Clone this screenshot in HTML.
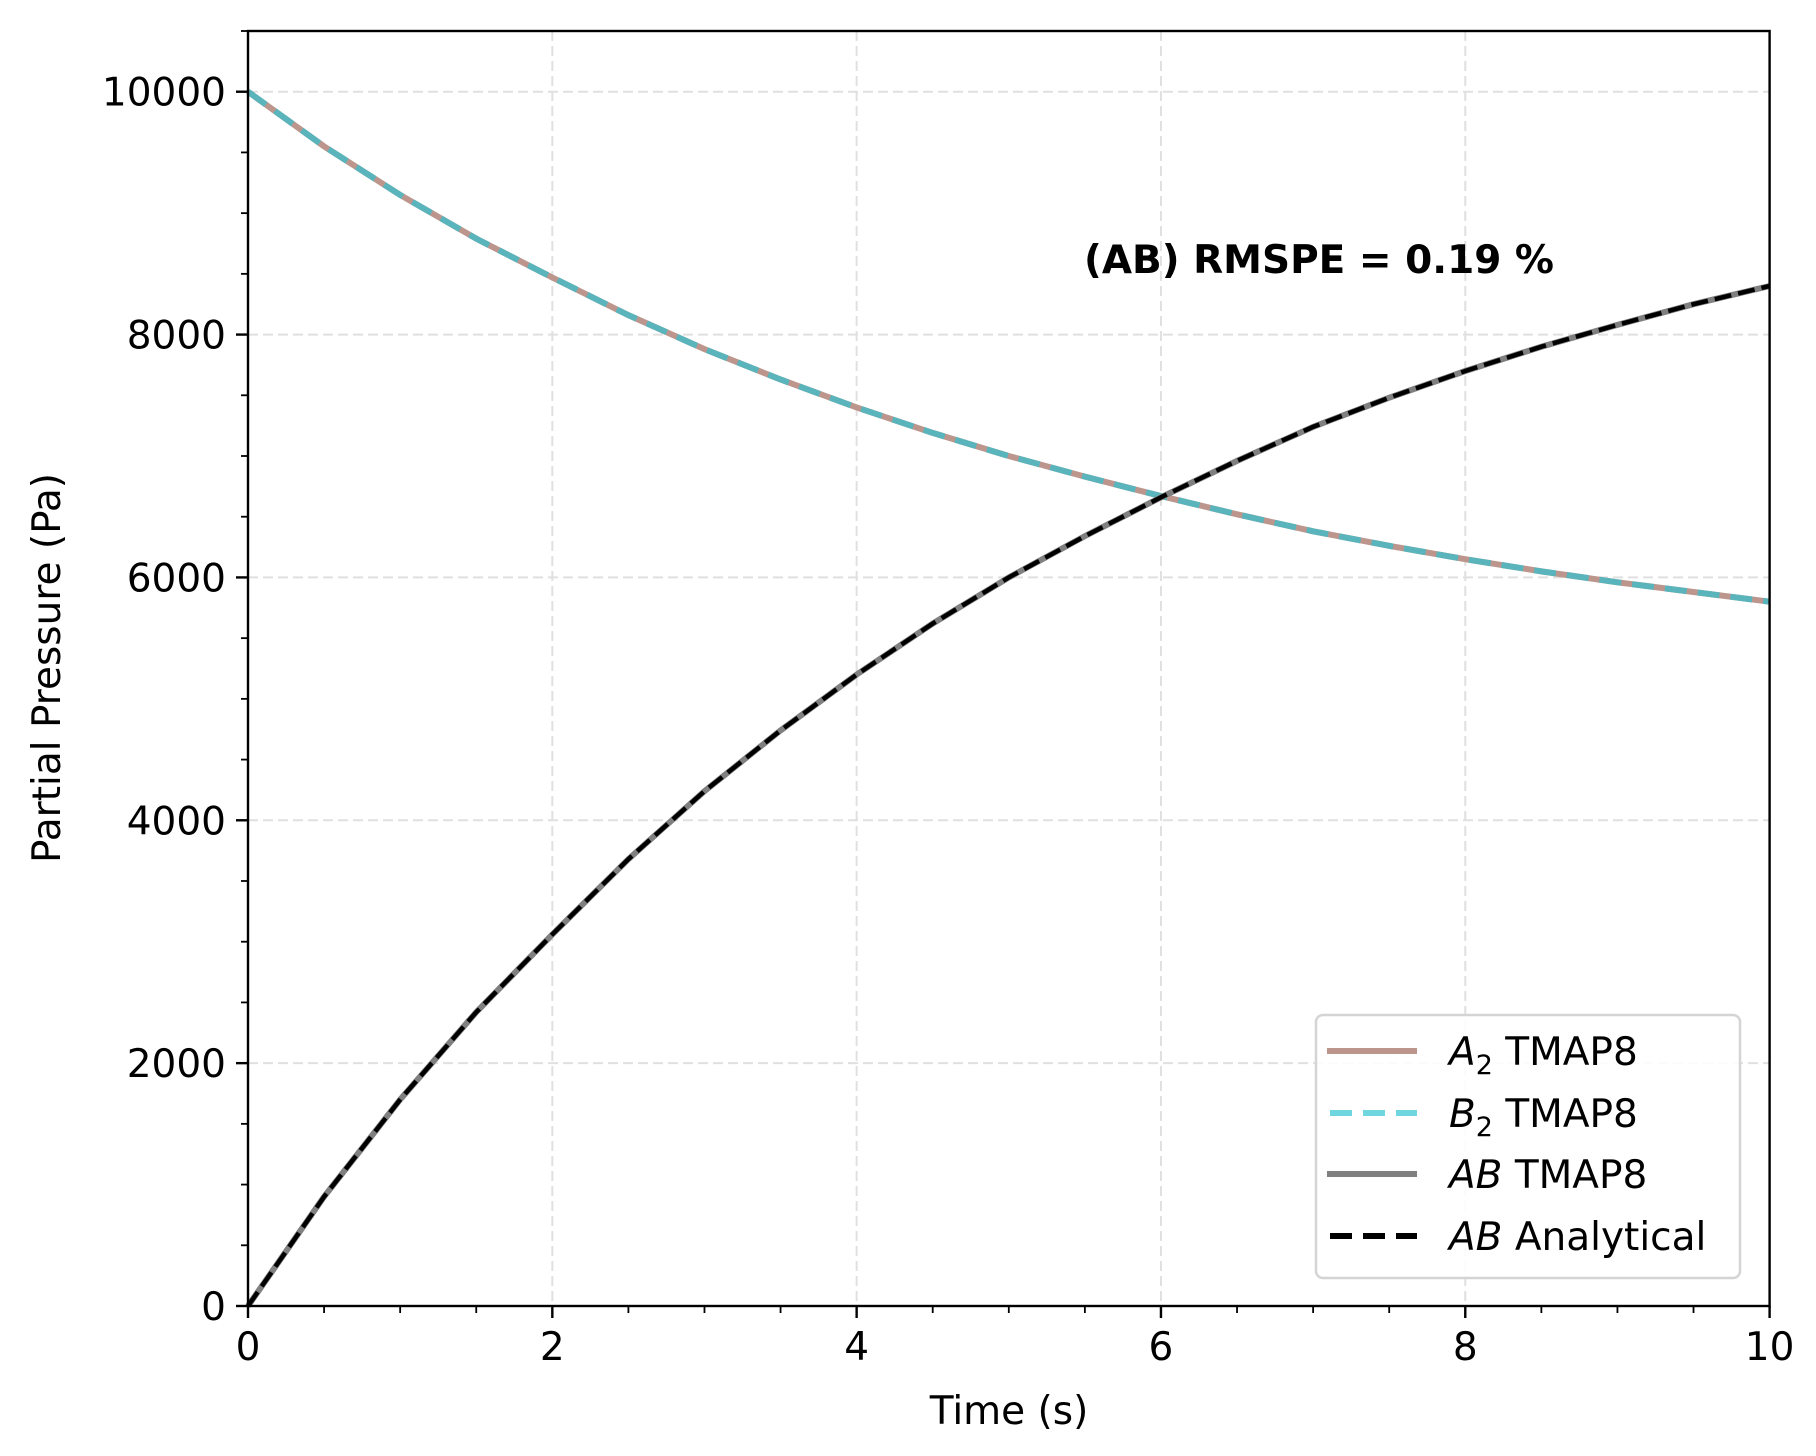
<!DOCTYPE html>
<html><head><meta charset="utf-8"><style>
html,body{margin:0;padding:0;background:#fff}
svg{display:block;font-family:"DejaVu Sans","Liberation Sans",sans-serif}
</style></head><body>
<svg id="chart" width="1816" height="1456" viewBox="0 0 1816 1456" xmlns="http://www.w3.org/2000/svg">
<rect width="1816" height="1456" fill="#fff"/>
<g id="grid"></g>
<g id="series"></g>
<rect x="248" y="31" width="1521.6" height="1275" fill="none" stroke="#000" stroke-width="2.4"/>
<g id="ticks"></g>
<text x="1084" y="273" font-size="39" font-weight="bold">(AB) RMSPE = 0.19 %</text>
<text x="1009" y="1424" font-size="39" text-anchor="middle">Time (s)</text>
<text transform="translate(60,668) rotate(-90)" font-size="39" text-anchor="middle">Partial Pressure (Pa)</text>
<g>
<rect x="1316" y="1015" width="424" height="263" rx="7" fill="#fff" fill-opacity="0.85" stroke="#d4d4d4" stroke-width="2.5"/>
<line x1="1327" y1="1051" x2="1417" y2="1051" stroke="#bc968d" stroke-width="6"/>
<text x="1449" y="1065" font-size="39"><tspan font-style="italic">A</tspan><tspan font-size="27" dy="9">2</tspan><tspan dy="-9"> TMAP8</tspan></text>
<line x1="1330" y1="1113" x2="1417" y2="1113" stroke="#6fd6e0" stroke-width="6" stroke-dasharray="22,11"/>
<text x="1449" y="1127" font-size="39"><tspan font-style="italic">B</tspan><tspan font-size="27" dy="9">2</tspan><tspan dy="-9"> TMAP8</tspan></text>
<line x1="1327" y1="1174" x2="1417" y2="1174" stroke="#808080" stroke-width="6"/>
<text x="1449" y="1188" font-size="39"><tspan font-style="italic">AB</tspan> TMAP8</text>
<line x1="1330" y1="1236" x2="1417" y2="1236" stroke="#000" stroke-width="6" stroke-dasharray="22,11"/>
<text x="1449" y="1250" font-size="39"><tspan font-style="italic">AB</tspan> Analytical</text>
</g>
</svg>
<script>
const times = [0,0.5,1,1.5,2,2.5,3,3.5,4,4.5,5,5.5,6,6.5,7,7.5,8,8.5,9,9.5,10];
const a2Values = [10000,9550,9150,8790,8470,8160,7880,7630,7400,7190,7000,6830,6670,6520,6380,6260,6150,6050,5960,5880,5800];
const b2Values = [10000,9550,9150,8790,8470,8160,7880,7630,7400,7190,7000,6830,6670,6520,6380,6260,6150,6050,5960,5880,5800];
const abValues = [0,900,1700,2420,3060,3680,4240,4740,5200,5620,6000,6340,6660,6960,7240,7480,7700,7900,8080,8250,8400];
const abAnalytical = [0,900,1700,2420,3060,3680,4240,4740,5200,5620,6000,6340,6660,6960,7240,7480,7700,7900,8080,8250,8400];
const xTicks = [0,2,4,6,8,10];
const yTicks = [0,2000,4000,6000,8000,10000];

const NS = "http://www.w3.org/2000/svg";
const L = 248, R = 1769.6, T = 31, B = 1306;
const xMax = 10, yMax = 10500;
const xs = v => L + (v / xMax) * (R - L);
const ys = v => B - (v / yMax) * (B - T);
function mk(tag, attrs, parent) {
  const e = document.createElementNS(NS, tag);
  for (const k in attrs) e.setAttribute(k, attrs[k]);
  parent.appendChild(e);
  return e;
}
const grid = document.getElementById('grid');
const ticks = document.getElementById('ticks');
const series = document.getElementById('series');

xTicks.forEach(v => {
  const g = mk('line', {x1: xs(v), x2: xs(v), y1: T, y2: B, stroke: '#e0e0e0', 'stroke-width': 2, 'stroke-dasharray': '10,5'}, grid);
  
  
  const t = mk('line', {x1: xs(v), x2: xs(v), y1: B, y2: B + 12, stroke: '#000', 'stroke-width': 2.4}, ticks);
  
  
  const lb = mk('text', {x: xs(v), y: B + 54, 'font-size': 39, 'text-anchor': 'middle'}, ticks);
  
  
  lb.textContent = v;
});
for (let v = 0.5; v < xMax; v += 1) {
  const t = mk('line', {x1: xs(v), x2: xs(v), y1: B, y2: B + 7, stroke: '#000', 'stroke-width': 1.8}, ticks);
  
  
}
for (let v = 1; v < xMax; v += 2) {
  const t = mk('line', {x1: xs(v), x2: xs(v), y1: B, y2: B + 7, stroke: '#000', 'stroke-width': 1.8}, ticks);
  
  
}
yTicks.forEach(v => {
  const g = mk('line', {x1: L, x2: R, y1: ys(v), y2: ys(v), stroke: '#e0e0e0', 'stroke-width': 2, 'stroke-dasharray': '10,5'}, grid);
  
  
  const t = mk('line', {x1: L - 12, x2: L, y1: ys(v), y2: ys(v), stroke: '#000', 'stroke-width': 2.4}, ticks);
  
  
  const lb = mk('text', {x: L - 22, y: ys(v) + 14, 'font-size': 39, 'text-anchor': 'end'}, ticks);
  
  
  lb.textContent = v;
});
for (let v = 500; v <= yMax; v += 500) {
  if (v % 2000 === 0) continue;
  const t = mk('line', {x1: L - 7, x2: L, y1: ys(v), y2: ys(v), stroke: '#000', 'stroke-width': 1.8}, ticks);
  
  
}
function pathOf(vals) {
  return vals.map((v, i) => (i ? 'L' : 'M') + xs(times[i]).toFixed(2) + ',' + ys(v).toFixed(2)).join(' ');
}
const pA = mk('path', {d: pathOf(a2Values), fill: 'none', stroke: '#bc968d', 'stroke-width': 6}, series);


const pB = mk('path', {d: pathOf(b2Values), fill: 'none', stroke: '#5ab4bb', 'stroke-width': 6, 'stroke-dasharray': '22,11'}, series);


const pC = mk('path', {d: pathOf(abValues), fill: 'none', stroke: '#808080', 'stroke-width': 6}, series);


const pD = mk('path', {d: pathOf(abAnalytical), fill: 'none', stroke: '#000', 'stroke-width': 4.5, 'stroke-dasharray': '17,7'}, series);


</script>
</body></html>
